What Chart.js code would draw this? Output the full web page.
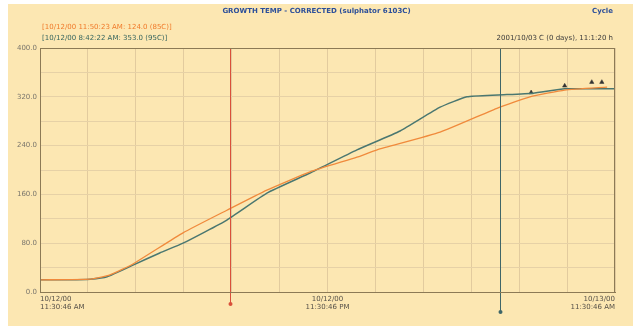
<!DOCTYPE html>
<html>
<head>
<meta charset="utf-8">
<script src="https://cdn.jsdelivr.net/npm/chart.js@4.4.1/dist/chart.umd.min.js"></script>
<style>
  html, body { margin: 0; padding: 0; background: #ffffff; }
  #frame {
    position: absolute; left: 8px; top: 4px; width: 625px; height: 322px;
    background: #fce7b2;
  }
  #wrap { position: absolute; left: 0; top: 0; width: 633px; height: 328px; }
  .txt { position: absolute; font-family: "DejaVu Sans", sans-serif; font-size: 7px; white-space: nowrap; }
  #title  { left: 0; width: 633px; top: 7px; text-align: center; color: #2c4f9a; font-weight: bold; }
  #cycle  { right: 20px; top: 7px; color: #2c4f9a; font-weight: bold; }
  #leg1   { left: 42px; top: 23px; color: #f07a2a; }
  #leg2   { left: 42px; top: 34px; color: #35655e; }
  #stamp  { right: 20px; top: 34px; color: #3a3a3a; }
</style>
</head>
<body>
<div id="frame"></div>
<div id="wrap"><canvas id="chart" width="633" height="328"></canvas></div>
<div class="txt" id="title">GROWTH TEMP - CORRECTED (sulphator 6103C)</div>
<div class="txt" id="cycle">Cycle</div>
<div class="txt" id="leg1">[10/12/00 11:50:23 AM: 124.0 (85C)]</div>
<div class="txt" id="leg2">[10/12/00 8:42:22 AM: 353.0 (95C)]</div>
<div class="txt" id="stamp">2001/10/03 C (0 days), 11:1:20 h</div>
<script>
/* ── Data (x = hours since start) ── */
const greenHours  = [0, 1.25, 2.09, 2.8, 3.88, 5.0, 5.97, 7.8, 9.47, 11.27, 13.23, 15.03, 16.7, 17.82, 19.12, 20.58, 21.9, 23.5, 24];
const greenTemps  = [20, 20, 21, 25, 44, 64, 80, 118, 162, 195, 233, 264, 303, 320, 323, 326, 333, 333, 333];

const orangeHours = [0, 2.09, 2.92, 3.88, 5.97, 7.8, 9.47, 11.27, 13.23, 14.07, 16.7, 19.12, 20.45, 21.9, 23.67];
const orangeTemps = [20, 21, 28, 46, 97, 134, 167, 197, 221, 233, 262, 302, 320, 331, 336];

const markerHours = [20.5, 21.9, 23.03, 23.45];
const markerTemps = [327, 338, 344, 344];

const cursorHours  = [7.93, 19.2];
const cursorColors = ['#d9503a', '#3f6668'];

const xLabelHours = [0, 12, 24];
const xTickLabels = [['10/12/00', '11:30:46 AM'], ['10/12/00', '11:30:46 PM'], ['10/13/00', '11:30:46 AM']];
const yLabelValues = [0, 80, 160, 240, 320, 400];

const toPoints = (xs, ys) => xs.map((x, i) => ({ x, y: ys[i] }));

/* ── Cursor lines plugin ── */
const cursorPlugin = {
  id: 'cursors',
  afterDatasetsDraw(chart) {
    const { ctx, chartArea, scales } = chart;
    cursorHours.forEach((h, i) => {
      const px = Math.round(scales.x.getPixelForValue(h)) + 0.5;
      const dotY = chartArea.bottom + (i === 0 ? 12 : 20);
      ctx.save();
      ctx.strokeStyle = cursorColors[i];
      ctx.lineWidth = 1;
      ctx.beginPath();
      ctx.moveTo(px, chartArea.top);
      ctx.lineTo(px, dotY);
      ctx.stroke();
      ctx.fillStyle = cursorColors[i];
      ctx.beginPath();
      ctx.arc(px, dotY, 2, 0, Math.PI * 2);
      ctx.fill();
      ctx.restore();
    });
  }
};

const tickFont = { family: "'DejaVu Sans', sans-serif", size: 7 };

new Chart(document.getElementById('chart'), {
  type: 'scatter',
  data: {
    datasets: [
      {
        data: toPoints(orangeHours, orangeTemps),
        showLine: true, borderColor: '#f08a3c', borderWidth: 1.3,
        pointRadius: 0, tension: 0.15
      },
      {
        data: toPoints(greenHours, greenTemps),
        showLine: true, borderColor: '#4a7770', borderWidth: 1.5,
        pointRadius: 0, tension: 0.15
      },
      {
        data: toPoints(markerHours, markerTemps),
        showLine: false, pointStyle: 'triangle', pointRadius: 2.5,
        backgroundColor: '#333333', borderColor: '#333333', borderWidth: 0.5
      }
    ]
  },
  options: {
    responsive: false,
    animation: false,
    layout: { padding: { left: 0, top: 48, right: 18, bottom: 0 } },
    plugins: { legend: { display: false }, tooltip: { enabled: false } },
    scales: {
      x: {
        type: 'linear', min: 0, max: 24,
        ticks: {
          stepSize: 2, autoSkip: false, maxRotation: 0, align: 'inner',
          font: tickFont, color: '#555048', padding: 3,
          callback: v => {
            const k = xLabelHours.indexOf(v);
            return k >= 0 ? xTickLabels[k] : '';
          }
        },
        grid: { color: '#e2cb9e', lineWidth: 1, drawTicks: false },
        border: { color: '#8c7a55', width: 1 },
        afterFit: s => { s.height = 36; }
      },
      y: {
        min: 0, max: 400,
        ticks: {
          stepSize: 40, autoSkip: false,
          font: tickFont, color: '#7a766c', padding: 3,
          callback: v => yLabelValues.includes(v) ? v.toFixed(1) : ''
        },
        grid: { color: '#e6d1a6', lineWidth: 1, drawTicks: false },
        border: { color: '#8c7a55', width: 1 },
        afterFit: s => { s.width = 40; }
      }
    }
  },
  plugins: [cursorPlugin, {
    id: 'frameBorder',
    afterDraw(chart) {
      const { ctx, chartArea: a } = chart;
      ctx.save();
      ctx.strokeStyle = '#8c7a55';
      ctx.lineWidth = 1;
      ctx.strokeRect(Math.round(a.left) + 0.5, Math.round(a.top) + 0.5,
                     Math.round(a.right - a.left) - 1, Math.round(a.bottom - a.top));
      ctx.restore();
    }
  }]
});
</script>
</body>
</html>
